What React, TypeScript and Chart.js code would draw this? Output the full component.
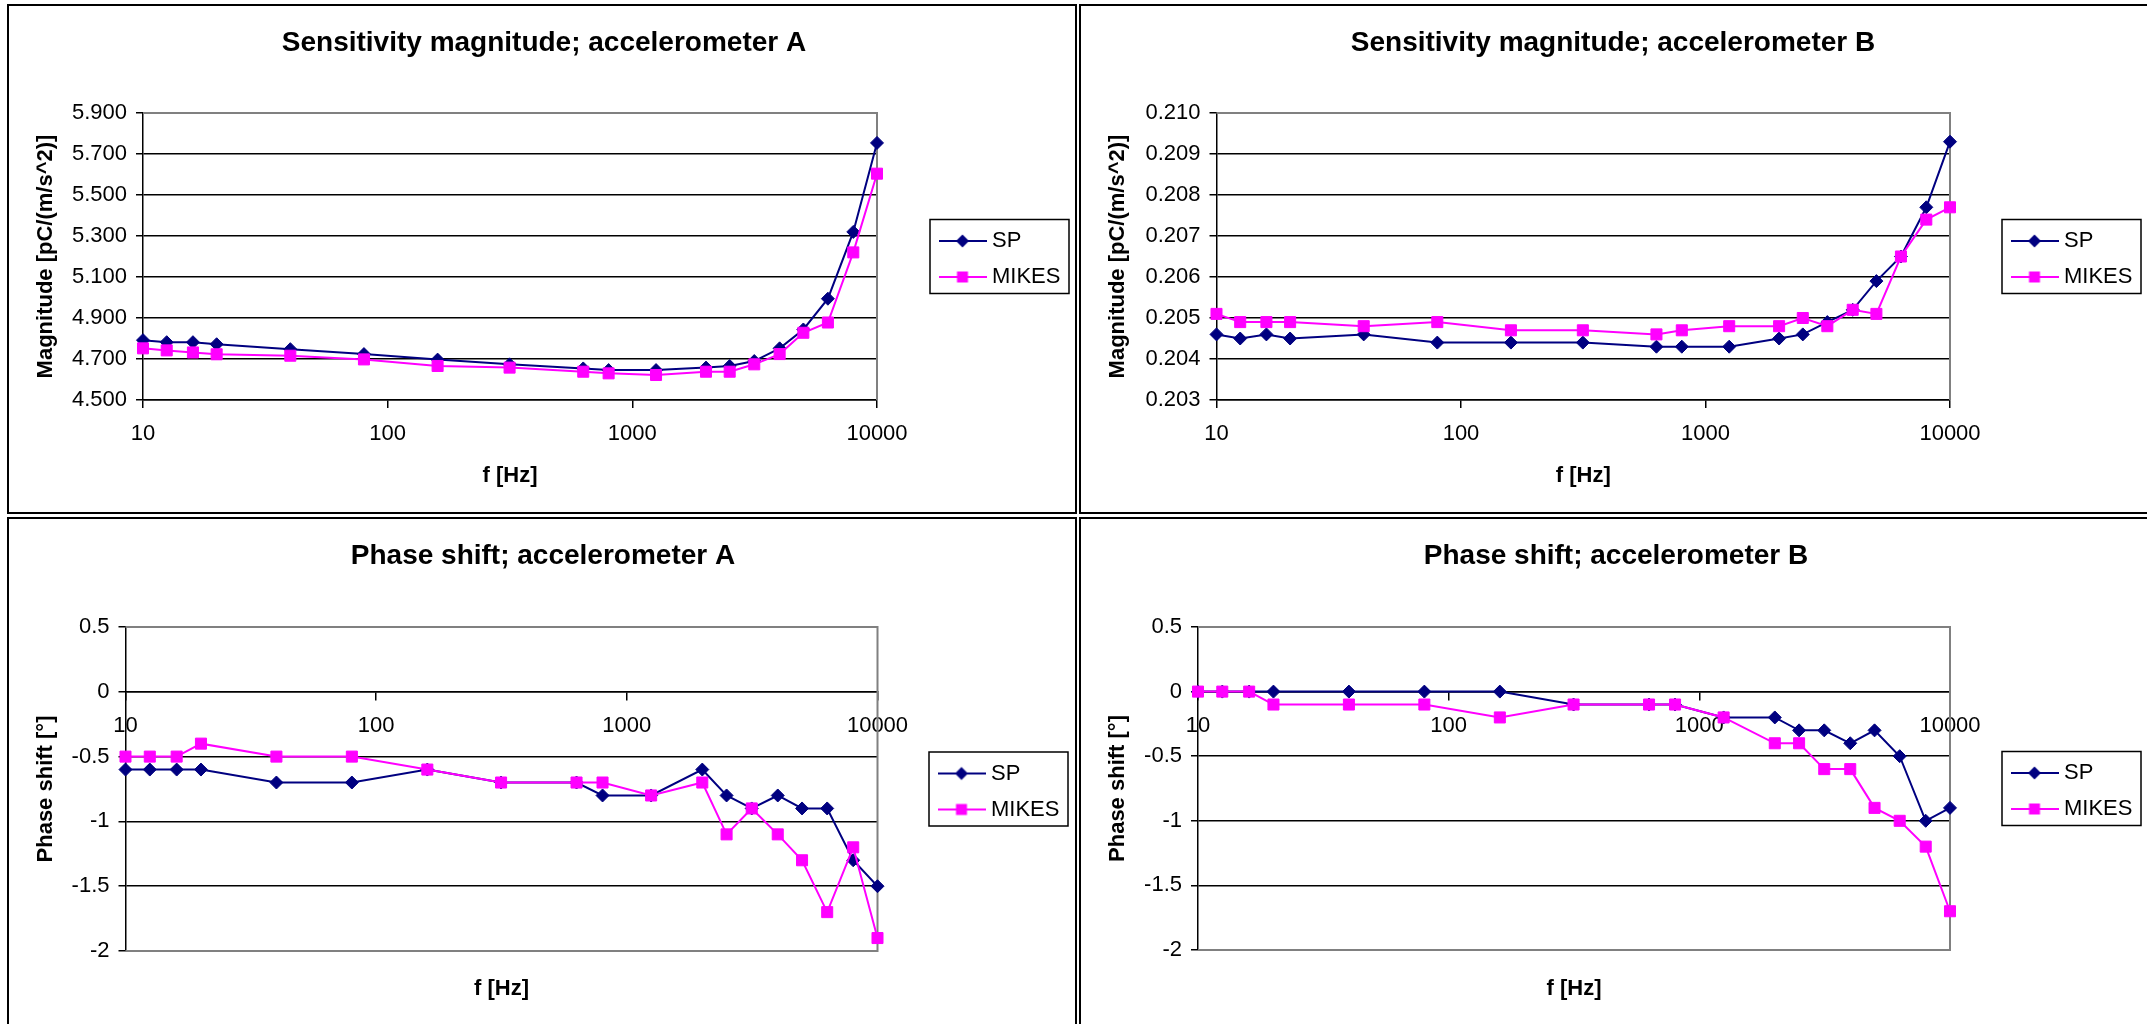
import React, { useEffect, useRef } from "react";
import { Chart, registerables } from "chart.js";

Chart.register(...registerables);

// ---------------- data ----------------
const FREQUENCIES = [10, 12.5, 16, 20, 40, 80, 160, 315, 630, 800, 1250, 2000, 2500, 3150, 4000, 5000, 6300, 8000, 10000];
const X_TICKS = [10, 100, 1000, 10000];

const MAG_A_SP = [4.792, 4.782, 4.782, 4.772, 4.748, 4.724, 4.697, 4.674, 4.654, 4.646, 4.646, 4.658, 4.666, 4.69, 4.752, 4.844, 4.994, 5.32, 5.754];
const MAG_A_MIKES = [4.752, 4.742, 4.732, 4.723, 4.716, 4.698, 4.666, 4.658, 4.638, 4.63, 4.622, 4.638, 4.638, 4.674, 4.724, 4.828, 4.878, 5.22, 5.604];
const MAG_B_SP = [0.2046, 0.2045, 0.2046, 0.2045, 0.2046, 0.2044, 0.2044, 0.2044, 0.2043, 0.2043, 0.2043, 0.2045, 0.2046, 0.2049, 0.2052, 0.2059, 0.2065, 0.2077, 0.2093];
const MAG_B_MIKES = [0.2051, 0.2049, 0.2049, 0.2049, 0.2048, 0.2049, 0.2047, 0.2047, 0.2046, 0.2047, 0.2048, 0.2048, 0.205, 0.2048, 0.2052, 0.2051, 0.2065, 0.2074, 0.2077];
const PHASE_A_SP = [-0.6, -0.6, -0.6, -0.6, -0.7, -0.7, -0.6, -0.7, -0.7, -0.8, -0.8, -0.6, -0.8, -0.9, -0.8, -0.9, -0.9, -1.3, -1.5];
const PHASE_A_MIKES = [-0.5, -0.5, -0.5, -0.4, -0.5, -0.5, -0.6, -0.7, -0.7, -0.7, -0.8, -0.7, -1.1, -0.9, -1.1, -1.3, -1.7, -1.2, -1.9];
const PHASE_B_SP = [0, 0, 0, 0, 0, 0, 0, -0.1, -0.1, -0.1, -0.2, -0.2, -0.3, -0.3, -0.4, -0.3, -0.5, -1.0, -0.9];
const PHASE_B_MIKES = [0, 0, 0, -0.1, -0.1, -0.1, -0.2, -0.1, -0.1, -0.1, -0.2, -0.4, -0.4, -0.6, -0.6, -0.9, -1.0, -1.2, -1.7];

const MAG_A_TICKS = [4.5, 4.7, 4.9, 5.1, 5.3, 5.5, 5.7, 5.9];
const MAG_B_TICKS = [0.203, 0.204, 0.205, 0.206, 0.207, 0.208, 0.209, 0.21];
const PHASE_TICKS = [-2, -1.5, -1, -0.5, 0, 0.5];

const SERIES_NAMES = ["SP", "MIKES"];
const TITLES = [
  "Sensitivity magnitude; accelerometer A",
  "Sensitivity magnitude; accelerometer B",
  "Phase shift; accelerometer A",
  "Phase shift; accelerometer B",
];
const X_TITLE = "f [Hz]";
const Y_TITLE_MAG = "Magnitude [pC/(m/s^2)]";
const Y_TITLE_PHASE = "Phase shift [°]";

// ---------------- style / layout ----------------
const FONT = "'Liberation Sans', Arial, Helvetica, sans-serif";
const NAVY = "#000080";
const MAGENTA = "#FF00FF";
const PANEL_W = 1070;
const PANEL_H = 510;
const BORDER = 2;
const CW = PANEL_W - 2 * BORDER;
const CH = PANEL_H - 2 * BORDER;
const TITLE_SIZE = 28;
const LABEL_SIZE = 22;
const LEGEND_PAD = 14;
const LEGEND_BOX_W = 37;

type Geom = { plotL: number; plotR: number; plotT: number; plotB: number; legendL: number; titleX: number };
type Spec = {
  key: string;
  left: number;
  top: number;
  title: string;
  sp: number[];
  mikes: number[];
  yTicks: number[];
  yFormat: (v: number) => string;
  yTitle: string;
  zeroAxis: boolean;
  geom: Geom;
};

const fmt3 = (v: number) => v.toFixed(3);
const fmtPlain = (v: number) => String(Math.round(v * 10) / 10);

const PANELS: Spec[] = [
  {
    key: "tl", left: 7, top: 4, title: TITLES[0], sp: MAG_A_SP, mikes: MAG_A_MIKES,
    yTicks: MAG_A_TICKS, yFormat: fmt3, yTitle: Y_TITLE_MAG, zeroAxis: false,
    geom: { plotL: 134, plotR: 868, plotT: 107, plotB: 394, legendL: 921, titleX: 535 },
  },
  {
    key: "tr", left: 1079, top: 4, title: TITLES[1], sp: MAG_B_SP, mikes: MAG_B_MIKES,
    yTicks: MAG_B_TICKS, yFormat: fmt3, yTitle: Y_TITLE_MAG, zeroAxis: false,
    geom: { plotL: 135.5, plotR: 869, plotT: 107, plotB: 394, legendL: 921, titleX: 532 },
  },
  {
    key: "bl", left: 7, top: 517, title: TITLES[2], sp: PHASE_A_SP, mikes: PHASE_A_MIKES,
    yTicks: PHASE_TICKS, yFormat: fmtPlain, yTitle: Y_TITLE_PHASE, zeroAxis: true,
    geom: { plotL: 116.5, plotR: 868.5, plotT: 108, plotB: 432, legendL: 920, titleX: 534 },
  },
  {
    key: "br", left: 1079, top: 517, title: TITLES[3], sp: PHASE_B_SP, mikes: PHASE_B_MIKES,
    yTicks: PHASE_TICKS, yFormat: fmtPlain, yTitle: Y_TITLE_PHASE, zeroAxis: true,
    geom: { plotL: 117, plotR: 869, plotT: 108, plotB: 431, legendL: 921, titleX: 535 },
  },
];

function makeLegendImage(color: string, style: "rectRot" | "rect") {
  const c = document.createElement("canvas");
  c.width = 48;
  c.height = 18;
  const g = c.getContext("2d")!;
  g.strokeStyle = color;
  g.lineWidth = 2;
  g.beginPath();
  g.moveTo(0, 9);
  g.lineTo(48, 9);
  g.stroke();
  g.fillStyle = color;
  g.beginPath();
  if (style === "rectRot") {
    g.moveTo(24, 2.5);
    g.lineTo(30.5, 9);
    g.lineTo(24, 15.5);
    g.lineTo(17.5, 9);
    g.closePath();
  } else {
    g.rect(18.5, 3.5, 11, 11);
  }
  g.fill();
  return c;
}

function measure(text: string, size: number) {
  const c = document.createElement("canvas");
  const g = c.getContext("2d")!;
  g.font = `${size}px ${FONT}`;
  return g.measureText(text).width;
}

const plotBorderPlugin = {
  id: "plotBorder",
  beforeDatasetsDraw(chart: any, _args: any, opts: any) {
    const { left, right, top, bottom } = chart.chartArea;
    const ctx = chart.ctx;
    ctx.save();
    ctx.strokeStyle = "#808080";
    ctx.lineWidth = 2;
    ctx.beginPath();
    ctx.moveTo(left, top);
    ctx.lineTo(right, top);
    ctx.lineTo(right, bottom);
    if (opts && opts.bottom) ctx.lineTo(left, bottom);
    ctx.stroke();
    ctx.restore();
  },
};

const legendBoxPlugin = {
  id: "legendBox",
  afterDraw(chart: any) {
    const lg = chart.legend;
    if (!lg) return;
    const ctx = chart.ctx;
    const mid = (lg.top + lg.bottom) / 2;
    ctx.save();
    ctx.strokeStyle = "#000";
    ctx.lineWidth = 1.5;
    ctx.strokeRect(lg.left, mid - 37, 139, 74);
    ctx.restore();
  },
};

function buildConfig(spec: Spec): any {
  const g = spec.geom;
  const mikesW = measure(SERIES_NAMES[1], LABEL_SIZE);
  const legendWidth = LEGEND_PAD + LEGEND_BOX_W + LABEL_SIZE / 2 + mikesW + 10;
  const padRight = CW - g.legendL - legendWidth;
  const padLeft = Math.max(0, 2 * g.titleX - CW + padRight);
  const legendImgs = [makeLegendImage(NAVY, "rectRot"), makeLegendImage(MAGENTA, "rect")];

  const datasets = [
    {
      label: SERIES_NAMES[0],
      data: FREQUENCIES.map((f, i) => ({ x: f, y: spec.sp[i] })),
      borderColor: NAVY,
      backgroundColor: NAVY,
      pointBackgroundColor: NAVY,
      pointBorderColor: NAVY,
      pointStyle: "rectRot",
      pointRadius: 6.5,
      pointBorderWidth: 1,
      borderWidth: 2,
      tension: 0,
      clip: false,
      order: 1,
      xAxisID: "x",
      yAxisID: "y",
    },
    {
      label: SERIES_NAMES[1],
      data: FREQUENCIES.map((f, i) => ({ x: f, y: spec.mikes[i] })),
      borderColor: MAGENTA,
      backgroundColor: MAGENTA,
      pointBackgroundColor: MAGENTA,
      pointBorderColor: MAGENTA,
      pointStyle: "rect",
      pointRadius: 7.8,
      pointBorderWidth: 1,
      borderWidth: 2,
      tension: 0,
      clip: false,
      order: 0,
      xAxisID: "x",
      yAxisID: "y",
    },
  ];

  const xTitle = {
    display: true,
    text: X_TITLE,
    color: "#000",
    font: { family: FONT, size: LABEL_SIZE, weight: "bold" },
    padding: { top: 0, bottom: 23 },
  };

  const scales: any = {
    x: {
      type: "logarithmic",
      axis: "x",
      min: 10,
      max: 10000,
      position: spec.zeroAxis ? { y: 0 } : "bottom",
      afterBuildTicks: (s: any) => {
        s.ticks = X_TICKS.map((v) => ({ value: v }));
      },
      afterFit: (s: any) => {
        if (!spec.zeroAxis) s.height = CH - g.plotB;
      },
      ticks: {
        callback: (v: any) => String(v),
        color: "#000",
        font: { family: FONT, size: LABEL_SIZE },
        padding: 13,
        maxRotation: 0,
        autoSkip: false,
      },
      grid: { drawOnChartArea: false, drawTicks: true, tickLength: 8, color: "#000", lineWidth: 1.5 },
      border: { display: true, color: "#000", width: 1.5 },
      title: spec.zeroAxis ? { display: false } : xTitle,
    },
    y: {
      type: "linear",
      axis: "y",
      position: "left",
      min: spec.yTicks[0],
      max: spec.yTicks[spec.yTicks.length - 1],
      afterBuildTicks: (s: any) => {
        s.ticks = spec.yTicks.map((v) => ({ value: v }));
      },
      afterFit: (s: any) => {
        s.width = g.plotL - padLeft;
      },
      ticks: {
        callback: (v: any) => spec.yFormat(Number(v)),
        color: "#000",
        font: { family: FONT, size: LABEL_SIZE },
        padding: 9,
      },
      grid: { color: "#000", lineWidth: 1.5, drawTicks: true, tickLength: 7 },
      border: { display: true, color: "#000", width: 1.5 },
      title: {
        display: true,
        text: spec.yTitle,
        color: "#000",
        font: { family: FONT, size: LABEL_SIZE, weight: "bold" },
        padding: { top: Math.max(0, 37 - LABEL_SIZE * 0.6 - padLeft), bottom: 0 },
      },
    },
    yr: {
      type: "linear",
      axis: "y",
      position: "right",
      display: true,
      min: 0,
      max: 1,
      ticks: { display: false },
      grid: { display: false, drawTicks: false },
      border: { display: false },
      afterFit: (s: any) => {
        s.width = g.legendL - g.plotR;
      },
    },
  };

  if (spec.zeroAxis) {
    scales.xt = {
      type: "linear",
      axis: "x",
      position: "bottom",
      display: true,
      min: 0,
      max: 1,
      ticks: { display: false },
      grid: { display: false, drawTicks: false },
      border: { display: false },
      title: xTitle,
      afterFit: (s: any) => {
        s.height = CH - g.plotB;
      },
    };
  }

  return {
    type: "line",
    data: { datasets },
    plugins: [plotBorderPlugin, legendBoxPlugin],
    options: {
      responsive: false,
      maintainAspectRatio: false,
      animation: false,
      devicePixelRatio: 1,
      events: [],
      layout: { padding: { left: padLeft, top: 0, right: padRight, bottom: 0 } },
      scales,
      plugins: {
        plotBorder: { bottom: spec.zeroAxis },
        tooltip: { enabled: false },
        title: {
          display: true,
          text: spec.title,
          color: "#000",
          font: { family: FONT, size: TITLE_SIZE, weight: "bold", lineHeight: 1.2 },
          padding: { top: 20, bottom: g.plotT - 20 - TITLE_SIZE * 1.2 },
        },
        legend: {
          display: true,
          position: "right",
          fullSize: false,
          align: "center",
          title: { display: true, text: " ", font: { family: FONT, size: 5, lineHeight: 1 }, padding: 0 },
          labels: {
            usePointStyle: true,
            pointStyleWidth: LEGEND_BOX_W,
            padding: LEGEND_PAD,
            color: "#000",
            font: { family: FONT, size: LABEL_SIZE },
            generateLabels: (chart: any) => {
              const items = Chart.defaults.plugins.legend.labels.generateLabels(chart);
              items.sort((a: any, b: any) => a.datasetIndex - b.datasetIndex);
              items.forEach((it: any) => {
                it.pointStyle = legendImgs[it.datasetIndex];
                it.fontColor = "#000";
              });
              return items;
            },
          },
        },
      },
    },
  };
}

function ChartPanel({ spec }: { spec: Spec }) {
  const ref = useRef<HTMLCanvasElement>(null);
  useEffect(() => {
    const chart = new Chart(ref.current as HTMLCanvasElement, buildConfig(spec));
    return () => chart.destroy();
  }, [spec]);
  return (
    <div
      style={{
        position: "absolute",
        left: spec.left,
        top: spec.top,
        width: PANEL_W,
        height: PANEL_H,
        border: `${BORDER}px solid #000`,
        boxSizing: "border-box",
        background: "#fff",
      }}
    >
      <canvas ref={ref} width={CW} height={CH} style={{ display: "block", width: CW, height: CH }} />
    </div>
  );
}

export default function App() {
  return (
    <div
      style={{
        position: "fixed",
        left: 0,
        top: 0,
        width: 2147,
        height: 1024,
        overflow: "hidden",
        background: "#fff",
      }}
    >
      {PANELS.map((p) => (
        <ChartPanel key={p.key} spec={p} />
      ))}
    </div>
  );
}
